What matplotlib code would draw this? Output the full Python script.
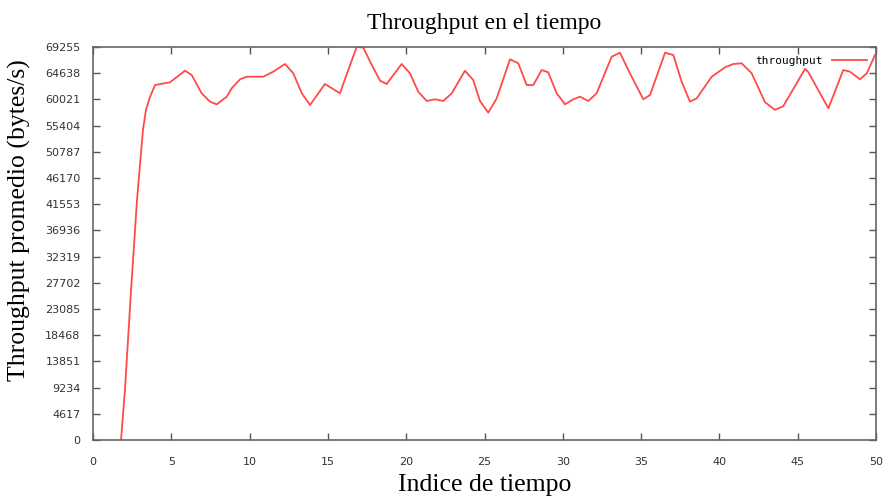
import matplotlib
matplotlib.use("Agg")
import matplotlib.pyplot as plt

# Data
time_index = [1.79, 2.04, 2.43, 2.81, 3.19, 3.38, 3.64, 3.96, 4.92, 5.87,
              6.30, 6.94, 7.47, 7.90, 8.54, 8.86, 9.39, 9.81, 10.87, 11.51,
              12.26, 12.79, 13.33, 13.86, 14.81, 15.77, 16.30, 16.84, 17.26, 17.80,
              18.33, 18.75, 19.71, 20.24, 20.77, 21.31, 21.84, 22.37, 22.91, 23.75,
              24.28, 24.71, 25.24, 25.78, 26.63, 27.16, 27.69, 28.12, 28.65, 29.07,
              29.61, 30.14, 30.67, 31.10, 31.63, 32.16, 33.12, 33.65, 34.18, 35.14,
              35.57, 36.53, 37.06, 37.59, 38.12, 38.55, 39.51, 40.36, 40.89, 41.42,
              42.06, 42.91, 43.55, 44.08, 45.47, 45.68, 46.96, 47.91, 48.34, 48.98,
              49.41, 49.94]
throughput = [0, 8811, 26433, 42293, 54628, 58153, 60443, 62558, 63033, 65077,
              64320, 61095, 59616, 59158, 60497, 61977, 63563, 64021, 64021, 64902,
              66259, 64620, 61095, 59033, 62734, 61095, 65201, 69255, 69150, 66084,
              63317, 62734, 66259, 64620, 61378, 59739, 60039, 59739, 61095, 65077,
              63437, 59739, 57677, 60214, 67087, 66382, 62558, 62558, 65201, 64796,
              61095, 59157, 60039, 60497, 59739, 61095, 67545, 68250, 65201, 60039,
              60797, 68250, 67844, 63140, 59616, 60214, 64021, 65677, 66259, 66382,
              64620, 59537, 58180, 58832, 65405, 64814, 58452, 65201, 64902, 63563,
              64620, 67845]

y_ticks = [0, 4617, 9234, 13851, 18468, 23085, 27702, 32319, 36936, 41553,
           46170, 50787, 55404, 60021, 64638, 69255]
x_ticks = [0, 5, 10, 15, 20, 25, 30, 35, 40, 45, 50]

fig = plt.figure(figsize=(8.88, 5.0), dpi=100)
ax = fig.add_axes([93/888, 1 - 440/500, (876 - 93)/888, (440 - 47)/500])

ax.plot(time_index, throughput, color="#ff4a4a", lw=1.3, label="throughput")

ax.set_xlim(0, 50)
ax.set_ylim(0, 69255)
ax.set_xticks(x_ticks)
ax.set_yticks(y_ticks)
ax.set_xticklabels([str(v) for v in x_ticks])
ax.set_yticklabels([str(v) for v in y_ticks])

ax.tick_params(direction="in", length=5, width=1, color="#555555",
               top=True, right=True, labelsize=8, labelcolor="#333333")
ax.tick_params(axis="x", pad=12)
ax.tick_params(axis="y", pad=9)
for s in ax.spines.values():
    s.set_color("#666666")
    s.set_linewidth(1.2)

serif = ["Liberation Serif", "DejaVu Serif"]
ax.set_title("Throughput en el tiempo", family=serif, fontsize=17, pad=13)
ax.set_xlabel("Indice de tiempo", family=serif, fontsize=18.5, labelpad=5)
ax.set_ylabel("Throughput promedio (bytes/s)", family=serif, fontsize=18.5)
ax.yaxis.set_label_coords(-0.079, 0.56)

leg = ax.legend(loc="upper right", frameon=False, markerfirst=False,
                prop={"family": "DejaVu Sans Mono", "size": 8},
                handlelength=3.2, borderaxespad=0.4, handletextpad=0.8)

fig.savefig("out.png", dpi=100, facecolor="white")
